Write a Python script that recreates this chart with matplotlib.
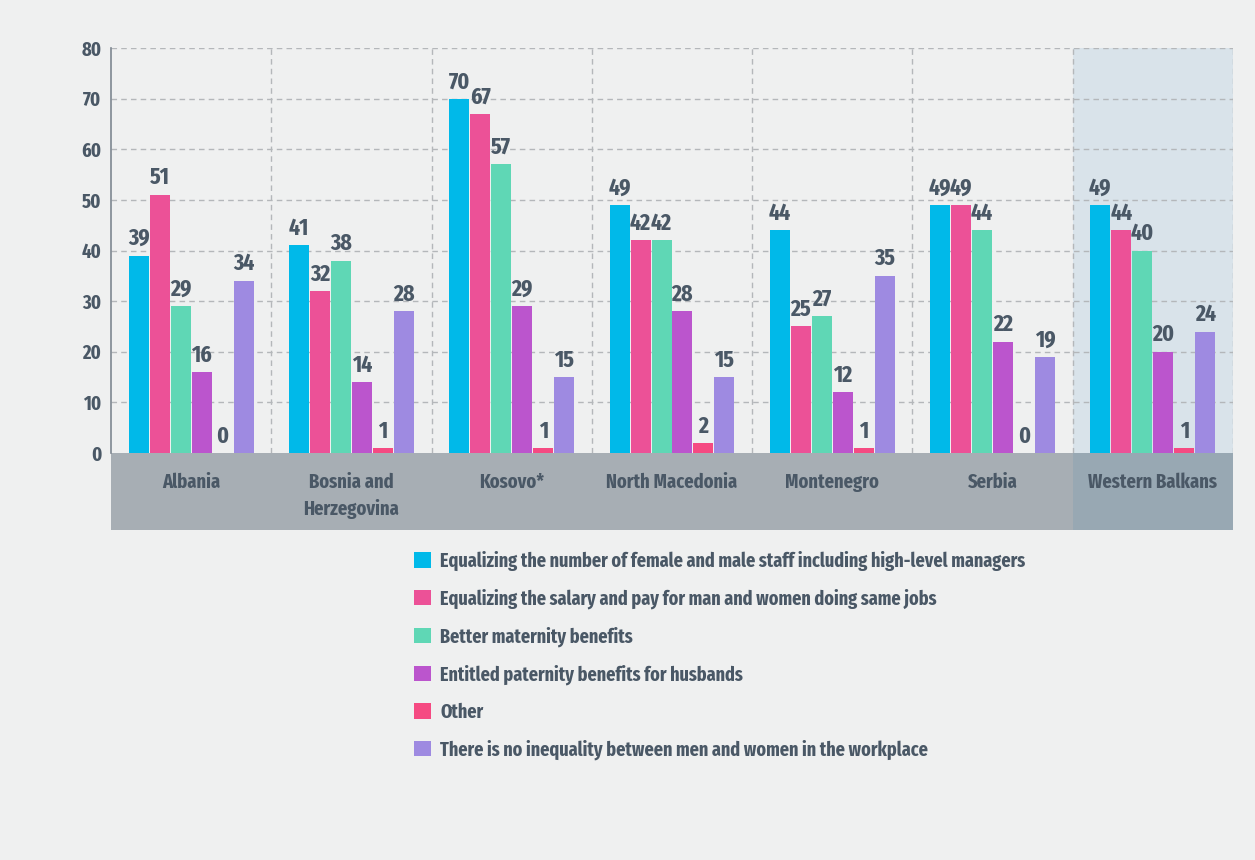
import numpy as np
import matplotlib.pyplot as plt
from matplotlib.patches import Rectangle

# ---- data ----
countries = ["Albania", "Bosnia and\nHerzegovina", "Kosovo*", "North Macedonia",
             "Montenegro", "Serbia", "Western Balkans"]
series_names = [
    "Equalizing the number of female and male staff including high-level managers",
    "Equalizing the salary and pay for man and women doing same jobs",
    "Better maternity benefits",
    "Entitled paternity benefits for husbands",
    "Other",
    "There is no inequality between men and women in the workplace",
]
staff = [39, 41, 70, 49, 44, 49, 49]
salary = [51, 32, 67, 42, 25, 49, 44]
maternity = [29, 38, 57, 42, 27, 44, 40]
paternity = [16, 14, 29, 28, 12, 22, 20]
other = [0, 1, 1, 2, 1, 0, 1]
no_inequality = [34, 28, 15, 15, 35, 19, 24]
series = [staff, salary, maternity, paternity, other, no_inequality]
colors = ["#00b9e9", "#ec5197", "#5fd7b5", "#bb55cd", "#f54a82", "#9e8ae1"]

txt_color = "#4a5866"
bg = "#eff0f0"
plt.rcParams['font.family'] = ['Fira Sans Extra Condensed', 'Fira Sans Condensed',
                               'PT Sans Narrow', 'DejaVu Sans']
plt.rcParams['font.weight'] = 'bold'

fig = plt.figure(figsize=(12.55, 8.6), dpi=100, facecolor=bg)
ax = fig.add_axes([111 / 1255, 1 - 530 / 860, 1122 / 1255, 482 / 860])
ax.set_facecolor(bg)

n = len(countries)
x = np.arange(n)
ymin = -15.2
ax.set_xlim(-0.5, n - 0.5)
ax.set_ylim(ymin, 80)

# highlight for the regional total
ax.add_patch(Rectangle((n - 1.5, 0), 1, 80, facecolor="#d9e3ea", edgecolor="none", zorder=0))
# category band
ax.add_patch(Rectangle((-0.5, ymin), n - 1, -ymin, facecolor="#a7aeb4", edgecolor="none", zorder=1))
ax.add_patch(Rectangle((n - 1.5, ymin), 1, -ymin, facecolor="#98a8b3", edgecolor="none", zorder=1))

# grid
grid_kw = dict(color="#b4b7ba", lw=1, ls=(0, (4, 3)), zorder=0.5)
for v in range(10, 90, 10):
    ax.plot([-0.5, n - 0.5], [v, v], **grid_kw)
for b in np.arange(0.5, n + 0.5, 1):
    ax.plot([b, b], [0, 80], **grid_kw)

# bars
px = 1 / 160.3
width = 20 * px
step = 21 * px
for i, (vals, col) in enumerate(zip(series, colors)):
    pos = x + (i - 2.5) * step
    ax.bar(pos, vals, width=width, color=col, edgecolor="none", zorder=2,
           label=series_names[i])
    for bx, v in zip(pos, vals):
        ax.annotate(str(v), (bx, v), xytext=(0, 4), textcoords="offset points",
                    ha="center", va="bottom", fontsize=17, fontweight="bold",
                    color=txt_color, zorder=3)

# category labels in the band
for xi, name in zip(x, countries):
    ax.text(xi, -3.9, name, ha="center", va="top", fontsize=14.5, fontweight="bold",
            color=txt_color, linespacing=1.45, zorder=3)

# axes styling
for s in ["top", "right", "bottom"]:
    ax.spines[s].set_visible(False)
ax.spines["left"].set_bounds(0, 80)
ax.spines["left"].set_color("#7d8791")
ax.spines["left"].set_linewidth(1.2)
ax.set_yticks(range(0, 90, 10))
ax.set_xticks([])
ax.tick_params(axis="y", length=0, pad=7, labelsize=14.5, labelcolor=txt_color)
for lab in ax.get_yticklabels():
    lab.set_fontweight("bold")

# legend
handles, labels = ax.get_legend_handles_labels()
leg = fig.legend(handles, labels, loc="upper left",
                 bbox_to_anchor=(396 / 1255, 1 - 533 / 860), frameon=False,
                 handlelength=0.85, handleheight=0.85, handletextpad=0.5,
                 labelspacing=0.89, fontsize=14.2)
for t in leg.get_texts():
    t.set_color(txt_color)
    t.set_fontweight("bold")

fig.savefig("out.png", dpi=100, facecolor=bg)
